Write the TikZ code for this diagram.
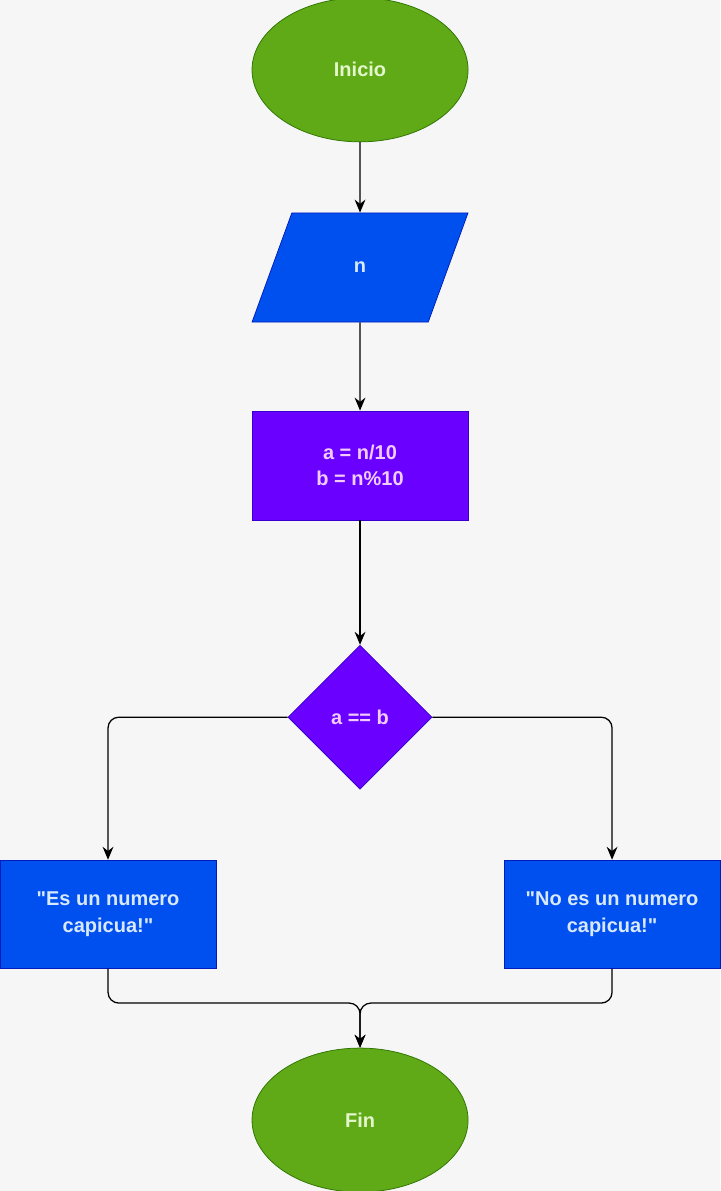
\documentclass[tikz,border=0pt]{standalone}
\usepackage{fontspec}
\setmainfont{Liberation Sans}
\usetikzlibrary{shapes.geometric,arrows.meta}
\definecolor{bgcol}{HTML}{F6F6F6}
\definecolor{termfill}{HTML}{60A917}
\definecolor{termline}{HTML}{2D7600}
\definecolor{termtext}{HTML}{E4F7CC}
\definecolor{iofill}{HTML}{0050EF}
\definecolor{ioline}{HTML}{001DBC}
\definecolor{iotext}{HTML}{D8E8FF}
\definecolor{procfill}{HTML}{6A00FF}
\definecolor{procline}{HTML}{3700CC}
\definecolor{proctext}{HTML}{F2CCFF}

\begin{document}
\begin{tikzpicture}[
		every node/.style={font=\fontsize{15.8}{21}\selectfont\bfseries, align=center, inner sep=0pt},
		startstop/.style={ellipse, draw=termline, fill=termfill, text=termtext, line width=0.6pt, minimum width=6cm, minimum height=4cm},
		inout/.style={trapezium, trapezium left angle=71.7, trapezium right angle=108.3, trapezium stretches=true, draw=ioline, fill=iofill, text=iotext, line width=0.6pt, minimum width=6cm, minimum height=3.03cm},
		process/.style={rectangle, draw=procline, fill=procfill, text=proctext, line width=0.6pt, minimum width=6cm, minimum height=3.03cm},
		decision/.style={diamond, draw=procline, fill=procfill, text=proctext, line width=0.6pt, minimum width=4cm, minimum height=4cm},
		output/.style={rectangle, draw=ioline, fill=iofill, text=iotext, line width=0.6pt, minimum width=6cm, minimum height=3cm},
		flow/.style={-{Stealth[length=0.36cm,width=0.3cm]}, line width=1pt, rounded corners=0.3cm}
	]
		%%background
		\fill[bgcol] (0,0) rectangle (20,-33.08);
		\useasboundingbox (0,0) rectangle (20,-33.08);
		%%nodes
		\node[startstop] (inicio) at (10,-1.94) {Inicio};
		\node[inout] (leer) at (10,-7.43) {n};
		\node[process] (calc) at (10,-12.93) {a = n/10\\b = n\%10};
		\node[decision] (cond) at (10,-19.92) {a == b};
		\node[output] (si) at (3,-25.39) {\textquotedbl Es un numero\\capicua!\textquotedbl};
		\node[output] (no) at (17,-25.39) {\textquotedbl No es un numero\\capicua!\textquotedbl};
		\node[startstop] (fin) at (10,-31.11) {Fin};
		\coordinate (merge) at (10,-27.86);
		%%arrows
		\draw[flow] (inicio) -- (leer);
		\draw[flow] (leer) -- (calc);
		\draw[flow] (calc) -- (cond);
		%%branches
		\draw[flow] (cond.west) -| (si.north);
		\draw[flow] (cond.east) -| (no.north);
		%%join
		\draw[flow] (si.south) |- (merge) -- (fin.north);
		\draw[flow] (no.south) |- (merge) -- (fin.north);
	\end{tikzpicture}
\end{document}
